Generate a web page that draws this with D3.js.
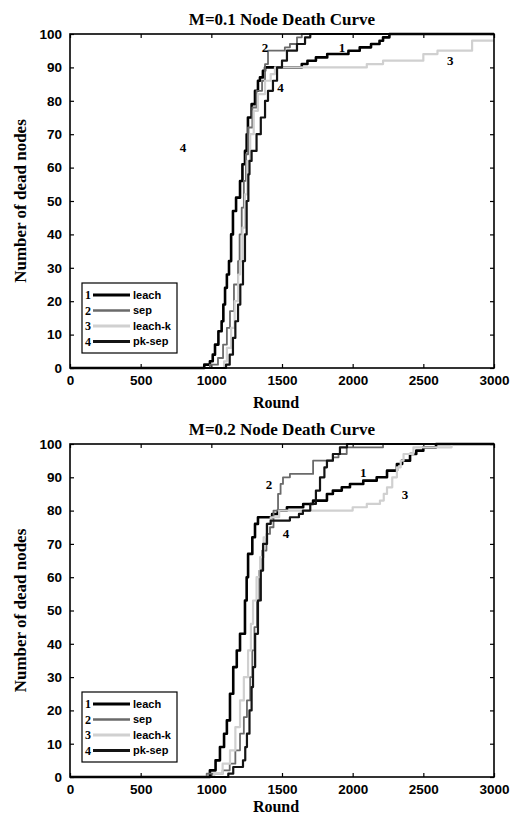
<!DOCTYPE html>
<html>
<head>
<meta charset="utf-8">
<script src="https://cdn.jsdelivr.net/npm/d3@7"></script>
<style>
  body { margin: 0; background: #fff; }
  svg { display: block; }
  .tick-lbl { font-family: "Liberation Sans", Arial, sans-serif; font-weight: bold; font-size: 13.5px; }
  .serif { font-family: "Liberation Serif", "Times New Roman", serif; font-weight: bold; }
</style>
</head>
<body>
<div id="chart"></div>
<script>
// series names and legend numbers
var seriesNames = ["leach", "sep", "leach-k", "pk-sep"];
var seriesIds = ["1", "2", "3", "4"];

// x ticks (rounds) and y ticks (dead nodes)
var xTicks = [0, 500, 1000, 1500, 2000, 2500, 3000];
var yTicks = [0, 10, 20, 30, 40, 50, 60, 70, 80, 90, 100];

// M=0.1 : [round, dead nodes]
var leachM1 = [[0,0],[940,0],[950,1],[990,2],[1010,4],[1026,7],[1050,11],[1073,14],[1085,19],[1097,24],[1110,28],[1125,32],[1140,40],[1153,47],[1175,51],[1203,56],[1220,61],[1238,65],[1250,70],[1259,75],[1285,79],[1309,83],[1330,86],[1344,87],[1365,89],[1380,90],[1640,91],[1680,92],[1740,93],[1820,94],[1970,95],[2050,96],[2130,97],[2190,98],[2215,99],[2260,100],[3000,100]];
var sepM1 = [[0,0],[985,0],[990,1],[1047,3],[1083,7],[1110,12],[1132,17],[1160,25],[1189,32],[1200,40],[1215,48],[1230,56],[1245,64],[1260,72],[1290,78],[1320,83],[1359,86],[1380,91],[1401,95],[1520,96],[1556,97],[1606,99],[1640,100],[3000,100]];
var leachkM1 = [[0,0],[1080,0],[1090,2],[1110,6],[1140,12],[1165,20],[1190,28],[1203,32],[1220,42],[1238,52],[1255,62],[1275,70],[1300,77],[1330,82],[1380,86],[1420,88],[1450,90],[2100,91],[2215,92],[2500,94],[2600,95],[2845,98],[3000,98]];
var pksepM1 = [[0,0],[1097,0],[1104,1],[1130,4],[1153,9],[1170,14],[1189,19],[1205,25],[1224,32],[1238,40],[1250,50],[1262,58],[1270,62],[1285,65],[1320,70],[1350,75],[1380,80],[1401,83],[1436,86],[1465,90],[1500,92],[1535,95],[1606,97],[1663,99],[1700,100],[3000,100]];
// curve labels for M=0.1 : [round, dead nodes, text]
var notesM1 = [[1380,96,"2"],[1925,96,"1"],[2690,92,"3"],[1490,84,"4"],[800,66,"4"]];

// M=0.2 : [round, dead nodes]
var leachM2 = [[0,0],[985,0],[990,2],[1030,5],[1061,9],[1090,13],[1110,17],[1132,25],[1155,33],[1180,38],[1203,43],[1238,53],[1250,60],[1260,67],[1290,72],[1309,76],[1330,78],[1430,79],[1470,80],[1535,81],[1650,82],[1720,83],[1818,85],[1860,86],[1923,87],[1981,88],[2075,89],[2170,90],[2243,92],[2313,94],[2350,95],[2406,97],[2450,98],[2500,99],[2590,100],[3000,100]];
var sepM2 = [[0,0],[960,0],[967,1],[1080,2],[1130,4],[1170,8],[1203,13],[1230,18],[1252,23],[1275,30],[1290,38],[1305,45],[1323,53],[1340,62],[1360,68],[1390,73],[1415,75],[1440,80],[1472,85],[1490,88],[1507,90],[1556,91],[1720,95],[1860,96],[1900,97],[1958,99],[2215,100],[3000,100]];
var leachkM2 = [[0,0],[1012,0],[1020,1],[1080,4],[1132,8],[1170,15],[1203,23],[1230,30],[1260,38],[1280,46],[1295,53],[1320,60],[1345,66],[1370,72],[1390,76],[1420,78],[1480,80],[2000,81],[2100,82],[2193,83],[2220,85],[2243,87],[2280,90],[2313,93],[2340,95],[2360,97],[2430,99],[2700,100],[3000,100]];
var pksepM2 = [[0,0],[1110,0],[1120,1],[1155,3],[1224,5],[1240,9],[1252,13],[1270,20],[1285,27],[1295,33],[1310,43],[1330,53],[1350,62],[1366,70],[1394,76],[1420,77],[1556,78],[1620,79],[1648,80],[1700,82],[1740,86],[1769,90],[1800,93],[1818,95],[1860,97],[1910,99],[1960,100],[3000,100]];
var notesM2 = [[1408,88,"2"],[2075,91.6,"1"],[2370,85,"3"],[1528,73,"4"]];

var styles = [
  {color: "#000", width: 2.6},
  {color: "#6a6a6a", width: 1.8},
  {color: "#d0d0d0", width: 2.2},
  {color: "#141414", width: 2.2}
];

var svg = d3.select("#chart").append("svg")
  .attr("width", 511).attr("height", 814);

function drawPanel(title, series, notes, top, bottom, titleY, xlabelY) {
  var x = d3.scaleLinear().domain([0, 3000]).range([70, 494]);
  var y = d3.scaleLinear().domain([0, 100]).range([bottom, top]);
  var g = svg.append("g");

  // title
  g.append("text").attr("class", "serif")
    .attr("x", 282).attr("y", titleY)
    .attr("text-anchor", "middle").style("font-size", "17px")
    .text(title);

  // axes with inward ticks
  g.append("g").attr("transform", "translate(0," + bottom + ")")
    .call(d3.axisBottom(x).tickValues(xTicks).tickFormat(d3.format("d")).tickSizeInner(-4).tickSizeOuter(0).tickPadding(7))
    .call(function(a) { a.select(".domain").remove(); a.selectAll("text").attr("class", "tick-lbl").attr("fill", "#000"); });
  g.append("g").attr("transform", "translate(70,0)")
    .call(d3.axisLeft(y).tickValues(yTicks).tickSizeInner(-4).tickSizeOuter(0).tickPadding(8))
    .call(function(a) { a.select(".domain").remove(); a.selectAll("text").attr("class", "tick-lbl").attr("fill", "#000"); });
  g.append("g").attr("transform", "translate(0," + top + ")")
    .call(d3.axisTop(x).tickValues(xTicks).tickSizeInner(-4).tickSizeOuter(0).tickFormat(""))
    .call(function(a) { a.select(".domain").remove(); });
  g.append("g").attr("transform", "translate(494,0)")
    .call(d3.axisRight(y).tickValues(yTicks).tickSizeInner(-4).tickSizeOuter(0).tickFormat(""))
    .call(function(a) { a.select(".domain").remove(); });
  g.selectAll(".tick line").attr("stroke", "#000").attr("stroke-width", 1.2);

  // curves
  var line = d3.line()
    .x(function(d) { return x(d[0]); })
    .y(function(d) { return y(d[1]); })
    .curve(d3.curveStepAfter);
  series.forEach(function(s, i) {
    g.append("path").datum(s)
      .attr("fill", "none")
      .attr("stroke", styles[i].color)
      .attr("stroke-width", styles[i].width)
      .attr("stroke-linejoin", "round")
      .attr("d", line);
  });

  // plot box
  g.append("rect")
    .attr("x", x(0)).attr("y", top)
    .attr("width", x(3000) - x(0)).attr("height", bottom - top)
    .attr("fill", "none").attr("stroke", "#000").attr("stroke-width", 1.6);

  // curve number labels
  g.selectAll(".note").data(notes).enter().append("text")
    .attr("class", "serif")
    .attr("x", function(d) { return x(d[0]); })
    .attr("y", function(d) { return y(d[1]); })
    .attr("text-anchor", "middle").attr("dy", "0.35em")
    .style("font-size", "13px")
    .text(function(d) { return d[2]; });

  // legend
  var lx = x(0) + 12, ly = bottom - 85;
  var lg = g.append("g").attr("transform", "translate(" + lx + "," + ly + ")");
  lg.append("rect").attr("width", 95).attr("height", 70)
    .attr("fill", "#fff").attr("stroke", "#000").attr("stroke-width", 1.2);
  seriesNames.forEach(function(name, i) {
    var ry = 12 + i * 15.5;
    lg.append("text").attr("class", "serif").attr("x", 3).attr("y", ry)
      .attr("dy", "0.35em").style("font-size", "12px").text(seriesIds[i]);
    lg.append("line").attr("x1", 11).attr("x2", 48).attr("y1", ry).attr("y2", ry)
      .attr("stroke", styles[i].color).attr("stroke-width", styles[i].width + 0.6);
    lg.append("text").attr("class", "tick-lbl").attr("x", 51).attr("y", ry)
      .attr("dy", "0.35em").style("font-size", "11px").text(name);
  });

  // axis labels
  g.append("text").attr("class", "serif")
    .attr("x", 276).attr("y", xlabelY)
    .attr("text-anchor", "middle").style("font-size", "16px")
    .text("Round");
  g.append("text").attr("class", "serif")
    .attr("transform", "translate(26," + ((top + bottom) / 2) + ") rotate(-90)")
    .attr("text-anchor", "middle").style("font-size", "17px")
    .text("Number of dead nodes");
}

drawPanel("M=0.1 Node Death Curve", [leachM1, sepM1, leachkM1, pksepM1], notesM1, 34, 368, 25, 408);
drawPanel("M=0.2 Node Death Curve", [leachM2, sepM2, leachkM2, pksepM2], notesM2, 444, 777, 435, 812);
</script>
</body>
</html>
